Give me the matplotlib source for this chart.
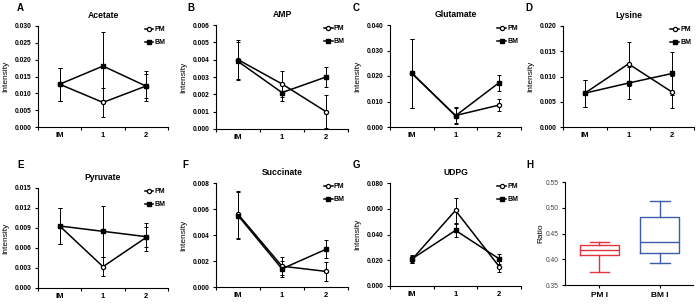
import numpy as np
import matplotlib.pyplot as plt

plt.rcParams['font.family'] = ['Liberation Sans', 'DejaVu Sans']

# --- DATA ---
groups = ["IM", "1", "2"]

acetate_pm = [0.0127, 0.0073, 0.0122]
acetate_pm_err = [0.0049, 0.0043, 0.0044]
acetate_bm = [0.0127, 0.0181, 0.0121]
acetate_bm_err = [0.0049, 0.0100, 0.0035]

amp_pm = [0.0040, 0.0026, 0.0010]
amp_pm_err = [0.00113, 0.00073, 0.00095]
amp_bm = [0.0039, 0.0021, 0.0030]
amp_bm_err = [0.0011, 0.0005, 0.0006]

glutamate_pm = [0.0211, 0.0045, 0.0086]
glutamate_pm_err = [0.0135, 0.0033, 0.0023]
glutamate_bm = [0.0211, 0.0044, 0.0174]
glutamate_bm_err = [0.0135, 0.0030, 0.0031]

lysine_pm = [0.0067, 0.0125, 0.0069]
lysine_pm_err = [0.0027, 0.0044, 0.0032]
lysine_bm = [0.0067, 0.0087, 0.0106]
lysine_bm_err = [0.0027, 0.0032, 0.0042]

pyruvate_pm = [0.0093, 0.0032, 0.0076]
pyruvate_pm_err = [0.0027, 0.0014, 0.0015]
pyruvate_bm = [0.0093, 0.0085, 0.0077]
pyruvate_bm_err = [0.0027, 0.0038, 0.0021]

succinate_pm = [0.0056, 0.0016, 0.0012]
succinate_pm_err = [0.0018, 0.0007, 0.00075]
succinate_bm = [0.0055, 0.0014, 0.0029]
succinate_bm_err = [0.0018, 0.0006, 0.0007]

udpg_pm = [0.0205, 0.0587, 0.0151]
udpg_pm_err = [0.0030, 0.0096, 0.0042]
udpg_bm = [0.0210, 0.0432, 0.0211]
udpg_bm_err = [0.0030, 0.0053, 0.0041]

# box plot H: whislo, q1, median, q3, whishi
box_labels = ["PM I", "BM I"]
pm_box = [0.375, 0.4083, 0.418, 0.4277, 0.4335]
bm_box = [0.3933, 0.4115, 0.434, 0.4814, 0.5137]
box_colors = ["#e2343c", "#3d5ca8"]

# --- LAYOUT (pixel boxes: left, top, right, bottom) ---
W, H = 698, 306
DPI = 100

def rect(l, t, r, b):
    return [l / W, (H - b) / H, (r - l) / W, (b - t) / H]

panels = [
    ("A", "Acetate", acetate_pm, acetate_pm_err, acetate_bm, acetate_bm_err, 0.030, 0.005, (38, 26, 168, 127), (17, 8)),
    ("B", "AMP", amp_pm, amp_pm_err, amp_bm, amp_bm_err, 0.006, 0.001, (216, 25, 348, 129), (187, 8)),
    ("C", "Glutamate", glutamate_pm, glutamate_pm_err, glutamate_bm, glutamate_bm_err, 0.040, 0.010, (390, 25, 521, 127), (353, 8)),
    ("D", "Lysine", lysine_pm, lysine_pm_err, lysine_bm, lysine_bm_err, 0.020, 0.005, (563, 26, 694, 127), (525, 8)),
    ("E", "Pyruvate", pyruvate_pm, pyruvate_pm_err, pyruvate_bm, pyruvate_bm_err, 0.015, 0.003, (38, 188, 168, 288), (17, 165)),
    ("F", "Succinate", succinate_pm, succinate_pm_err, succinate_bm, succinate_bm_err, 0.008, 0.002, (216, 183, 348, 287), (182, 165)),
    ("G", "UDPG", udpg_pm, udpg_pm_err, udpg_bm, udpg_bm_err, 0.080, 0.020, (390, 183, 521, 286), (353, 165)),
]

fig = plt.figure(figsize=(W / DPI, H / DPI), dpi=DPI)
x = np.arange(len(groups))

for letter, name, pm, pm_err, bm, bm_err, ymax, ystep, box, lpos in panels:
    ax = fig.add_axes(rect(*box))
    for vals, errs in ((pm, pm_err), (bm, bm_err)):
        ax.errorbar(x, vals, yerr=errs, fmt='none', ecolor='black',
                    elinewidth=0.7, capsize=1.6, capthick=0.7, zorder=2)
    ax.plot(x, pm, color='black', lw=1.1, marker='o', ms=3,
            mfc='white', mec='black', mew=0.9, label='PM', zorder=3)
    ax.plot(x, bm, color='black', lw=1.1, marker='s', ms=3,
            mfc='black', mec='black', label='BM', zorder=3)

    ax.set_xlim(-0.5, 2.5)
    ax.set_ylim(0, ymax)
    ax.set_yticks(np.arange(0, ymax + ystep / 2, ystep))
    ax.yaxis.set_major_formatter(plt.FormatStrFormatter('%.3f'))
    ax.set_xticks(x, groups)
    ax.set_xticks([-0.5, 0.5, 1.5, 2.5], minor=True)
    ax.tick_params(axis='x', which='major', length=0, pad=3.5, labelsize=5.5)
    ax.tick_params(axis='x', which='minor', length=2.5, width=0.8)
    ax.tick_params(axis='y', length=2.5, width=0.8, labelsize=4.8, pad=2)
    for lab in ax.get_xticklabels() + ax.get_yticklabels():
        lab.set_fontweight('bold')
    for s in ('top', 'right'):
        ax.spines[s].set_visible(False)
    for s in ('left', 'bottom'):
        ax.spines[s].set_linewidth(0.8)

    ax.set_title(name, fontsize=6.2, fontweight='bold', pad=6)
    ax.set_ylabel("Intensity", fontsize=6)
    ax.yaxis.set_label_coords(-0.22, 0.5)
    ax.legend(loc='upper left', bbox_to_anchor=(0.82, 1.0), frameon=False,
              handlelength=1.2, handletextpad=0.2,
              labelspacing=0.9, borderaxespad=0, borderpad=0,
              prop={'weight': 'bold', 'size': 5})
    fig.text(lpos[0] / W, 1 - lpos[1] / H, letter, fontsize=7,
             fontweight='bold', va='center', ha='left')

# --- panel H: box plot ---
axh = fig.add_axes(rect(565, 182, 693, 285))
stats = []
for lab, vals in zip(box_labels, (pm_box, bm_box)):
    stats.append(dict(label=lab, whislo=vals[0], q1=vals[1], med=vals[2],
                      q3=vals[3], whishi=vals[4]))
bp = axh.bxp(stats, positions=[1, 2], widths=0.65, showfliers=False,
             patch_artist=False)
for i, c in enumerate(box_colors):
    for key in ('boxes', 'medians'):
        bp[key][i].set_color(c)
        bp[key][i].set_linewidth(1.0)
    for key in ('whiskers', 'caps'):
        for j in (2 * i, 2 * i + 1):
            bp[key][j].set_color(c)
            bp[key][j].set_linewidth(1.0)
axh.set_xlim(0.43, 2.55)
axh.set_ylim(0.35, 0.55)
axh.set_yticks(np.arange(0.35, 0.551, 0.05))
axh.yaxis.set_major_formatter(plt.FormatStrFormatter('%.2f'))
axh.tick_params(axis='y', length=2.5, width=0.8, labelsize=4.8, pad=2,
                labelcolor='#444444')
axh.tick_params(axis='x', length=2.5, width=0.8, labelsize=6, pad=2.5)
for lab in axh.get_xticklabels():
    lab.set_fontweight('bold')
for s in ('top', 'right'):
    axh.spines[s].set_visible(False)
for s in ('left', 'bottom'):
    axh.spines[s].set_linewidth(0.8)
axh.set_ylabel("Ratio", fontsize=6)
axh.yaxis.set_label_coords(-0.16, 0.5)
fig.text(526 / W, 1 - 165 / H, "H", fontsize=7, fontweight='bold',
         va='center', ha='left')

fig.savefig("out.png", dpi=DPI)
